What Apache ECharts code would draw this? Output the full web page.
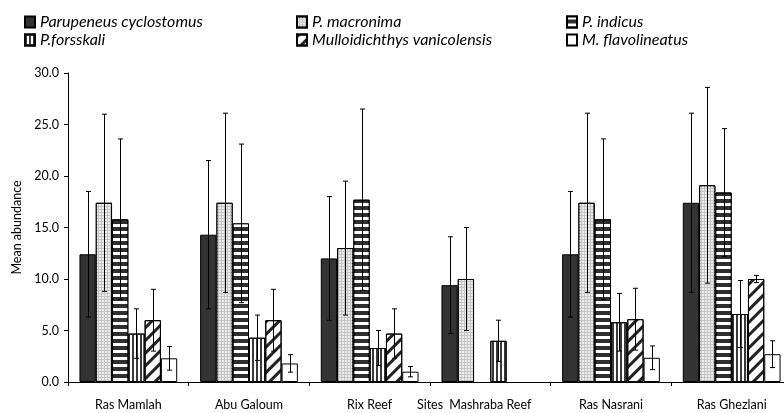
<!DOCTYPE html>
<html><head><meta charset="utf-8">
<script src="https://cdn.jsdelivr.net/npm/echarts@6/dist/echarts.min.js"></script>
<style>html,body{margin:0;padding:0;background:#fff}#c{width:784px;height:413px}</style>
</head><body><div id="c"></div>
<script>
const sites = ['Ras Mamlah', 'Abu Galoum', 'Rix Reef', 'Mashraba Reef', 'Ras Nasrani', 'Ras Ghezlani'];
const speciesNames = ['Parupeneus cyclostomus', 'P. macronima', 'P. indicus', 'P.forsskali', 'Mulloidichthys vanicolensis', 'M. flavolineatus'];
const cyclostomus = [12.4, 14.3, 12.0, 9.4, 12.4, 17.4];
const cyclostomusSD = [6.1, 7.2, 6.0, 4.7, 6.1, 8.7];
const macronima = [17.4, 17.4, 13.0, 10.0, 17.4, 19.1];
const macronimaSD = [8.6, 8.7, 6.5, 5.0, 8.7, 9.5];
const indicus = [15.8, 15.4, 17.7, null, 15.8, 18.4];
const indicusSD = [7.8, 7.7, 8.8, null, 7.8, 6.2];
const forsskali = [4.7, 4.3, 3.3, 4.0, 5.8, 6.6];
const forsskaliSD = [2.4, 2.2, 1.7, 2.0, 2.8, 3.25];
const vanicolensis = [6.0, 6.0, 4.7, null, 6.1, 10.0];
const vanicolensisSD = [3.0, 3.0, 2.4, null, 3.0, 0.35];
const flavolineatus = [2.3, 1.8, 1.0, null, 2.35, 2.7];
const flavolineatusSD = [1.15, 0.85, 0.5, null, 1.15, 1.3];
const yTicks = [0, 5, 10, 15, 20, 25, 30];

const values = [cyclostomus, macronima, indicus, forsskali, vanicolensis, flavolineatus];
const sds = [cyclostomusSD, macronimaSD, indicusSD, forsskaliSD, vanicolensisSD, flavolineatusSD];

const GAP = 0.19;
const styles = [
  {color: '#333333'},
  {color: '#c4c4c4', decal: {symbol: 'circle', symbolSize: 0.9, dashArrayX: [[2, 1]], dashArrayY: [2, 1], color: '#ffffff'}},
  {color: '#2e2e2e', decal: {symbol: 'rect', symbolSize: 1, dashArrayX: [1, 0], dashArrayY: [3, 3.5], color: '#ffffff'}},
  {color: '#ffffff', decal: {symbol: 'rect', symbolSize: 1, dashArrayX: [2, 2], dashArrayY: [1, 0], color: '#3a3a3a'}},
  {color: '#ffffff', decal: {symbol: 'rect', symbolSize: 1, dashArrayX: [1, 0], dashArrayY: [3, 6], rotation: -Math.PI / 4, color: '#222222'}},
  {color: '#ffffff'}
];

const series = [];
speciesNames.forEach((name, i) => {
  series.push({
    name: name, type: 'bar', data: values[i], barGap: '0%', barCategoryGap: (GAP * 100) + '%',
    itemStyle: Object.assign({borderColor: '#000', borderWidth: 1}, styles[i]),
    z: 2
  });
});
speciesNames.forEach((name, i) => {
  const errData = values[i].map((v, k) => (v == null || sds[i][k] == null) ? [k, null, null] : [k, v - sds[i][k], v + sds[i][k]]);
  series.push({
    type: 'custom', name: name + ' err', z: 5, silent: true,
    data: errData,
    renderItem: function (params, api) {
      const lo = api.value(1), hi = api.value(2);
      if (lo == null || isNaN(lo)) return null;
      const band = api.size([1, 0])[0];
      const groupW = band * (1 - GAP);
      const bw = groupW / 6;
      const off = -groupW / 2 + (i + 0.5) * bw;
      const pLo = api.coord([api.value(0), lo]);
      const pHi = api.coord([api.value(0), hi]);
      const x = Math.round(pLo[0] + off) + 0.5;
      const cap = 2.5;
      const st = {stroke: '#000', lineWidth: 1};
      return {type: 'group', children: [
        {type: 'line', shape: {x1: x, y1: pLo[1], x2: x, y2: pHi[1]}, style: st},
        {type: 'line', shape: {x1: x - cap, y1: pHi[1], x2: x + cap, y2: pHi[1]}, style: st},
        {type: 'line', shape: {x1: x - cap, y1: pLo[1], x2: x + cap, y2: pLo[1]}, style: st}
      ]};
    }
  });
});

const legendText = {fontFamily: 'Lato', fontStyle: 'italic', fontSize: 16, color: '#000'};
function mkLegend(left, names) {
  return {left: left, top: 14, orient: 'vertical', itemGap: 2, itemWidth: 10, itemHeight: 11, icon: 'rect',
    data: names, textStyle: legendText, selectedMode: false, padding: 0};
}

const chart = echarts.init(document.getElementById('c'), null, {renderer: 'canvas'});
chart.setOption({
  animation: false,
  legend: [
    mkLegend(24, [speciesNames[0], speciesNames[3]]),
    mkLegend(296, [speciesNames[1], speciesNames[4]]),
    mkLegend(566, [speciesNames[2], speciesNames[5]])
  ],
  grid: {left: 68, right: -8, top: 73, bottom: 31, containLabel: false, outerBoundsMode: 'none'},
  xAxis: {
    type: 'category', data: sites,
    name: 'Sites', nameLocation: 'middle', nameGap: 16, nameMoveOverlap: false,
    nameTextStyle: {fontFamily: 'Lato', fontSize: 12.5, color: '#000'},
    axisLine: {lineStyle: {color: '#000', width: 1}},
    axisTick: {show: true, length: 4, lineStyle: {color: '#000'}},
    axisLabel: {fontFamily: 'Lato', fontSize: 12.5, color: '#000', margin: 16}
  },
  yAxis: {
    type: 'value', min: yTicks[0], max: yTicks[yTicks.length - 1], interval: yTicks[1] - yTicks[0],
    name: 'Mean abundance', nameLocation: 'middle', nameGap: 45, nameRotate: 90,
    nameTextStyle: {fontFamily: 'Lato', fontSize: 12.5, color: '#000'},
    splitLine: {show: false},
    axisLine: {show: true, lineStyle: {color: '#000', width: 1}},
    axisTick: {show: true, length: 4, lineStyle: {color: '#000'}},
    axisLabel: {fontFamily: 'Lato', fontSize: 12.5, color: '#000', margin: 9, formatter: v => v.toFixed(1)}
  },
  series: series
});
</script></body></html>
